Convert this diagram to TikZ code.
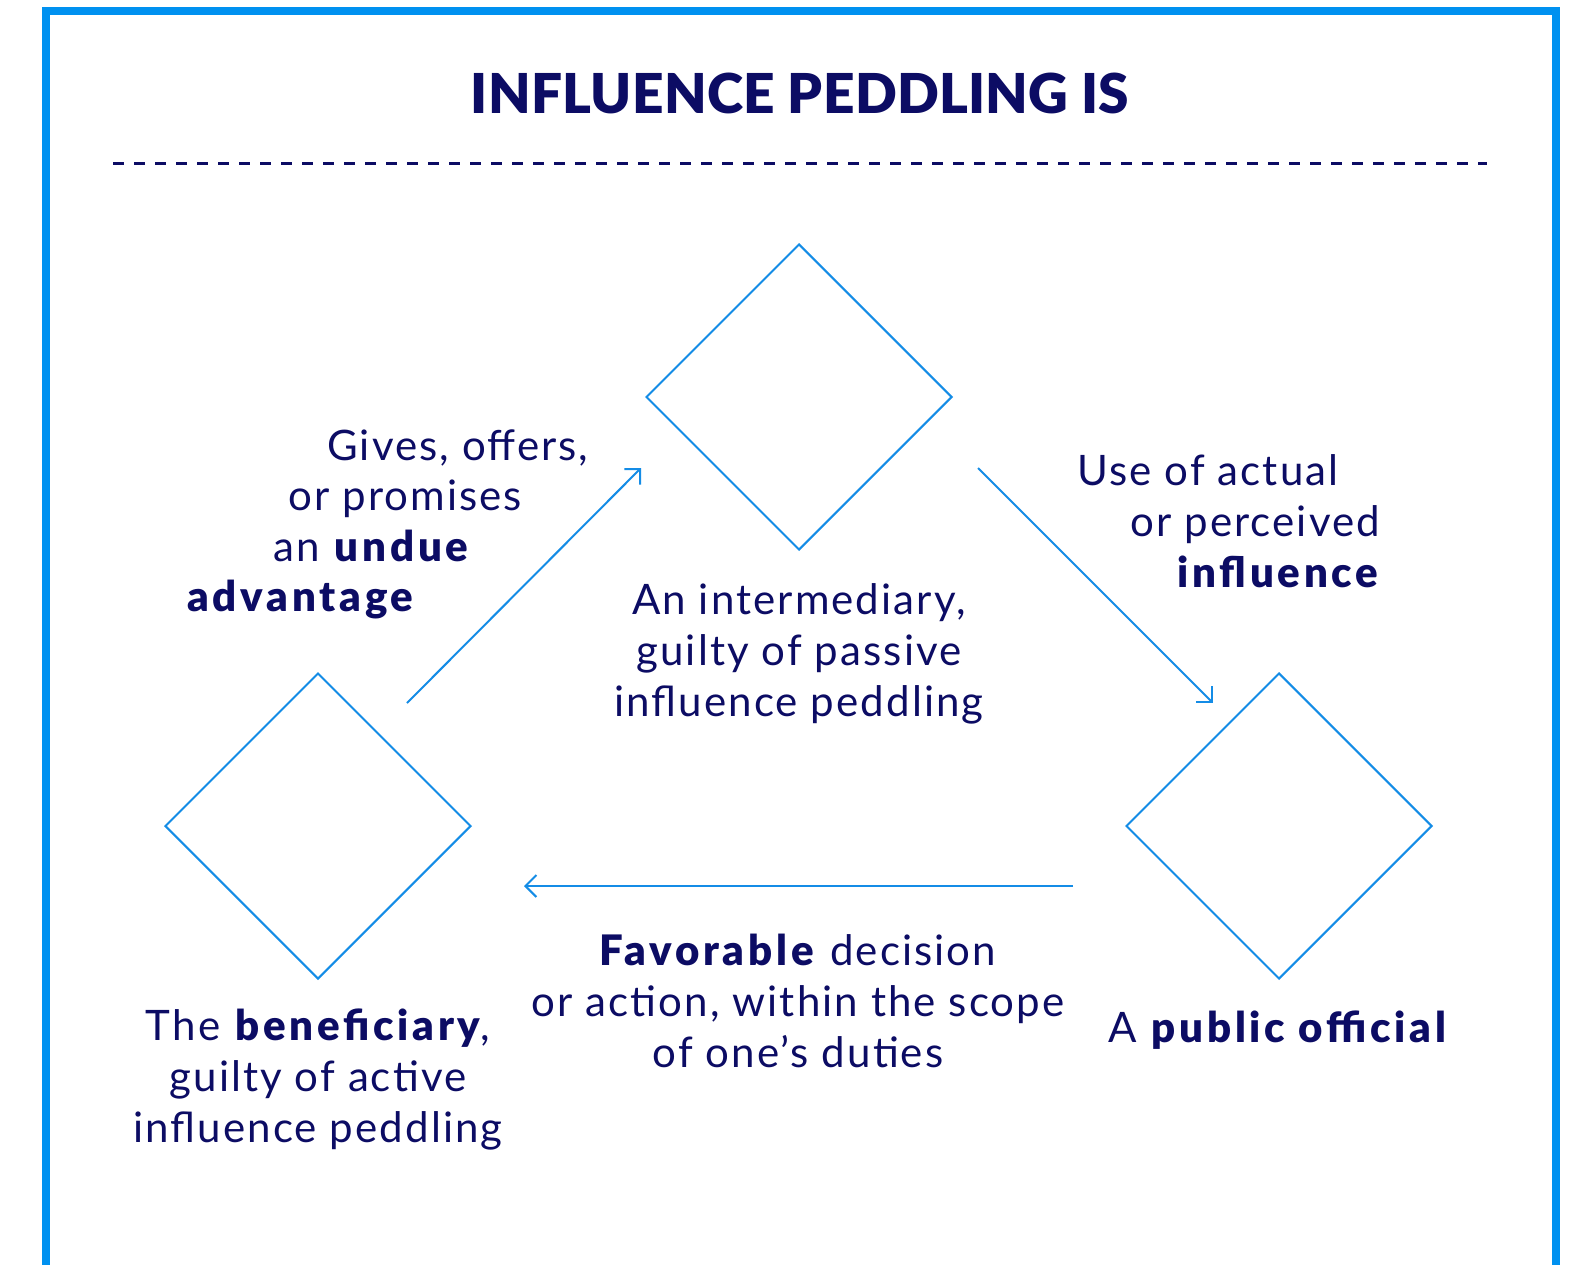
\documentclass[tikz,border=0pt]{standalone}
\usepackage{fontspec}
\setmainfont{Lato}[LetterSpace=5, BoldFont={Lato Black}, BoldFeatures={LetterSpace=9}]
\newfontfamily\titlefont{Lato}[LetterSpace=0.5, BoldFont={Lato Black}]
\usetikzlibrary{shapes.geometric,arrows.meta}
\definecolor{navy}{RGB}{12,12,100}
\definecolor{frameblue}{RGB}{0,145,240}
\definecolor{lineblue}{RGB}{20,140,230}
\begin{document}
\begin{tikzpicture}[x=0.5pt,y=-0.5pt,
  dia/.style={diamond, draw=lineblue, line width=1pt, inner sep=0pt,
    minimum width=153pt, minimum height=153pt},
  arr/.style={draw=lineblue, line width=1pt, -{Straight Barb[length=5.5pt,width=11pt,line width=1pt]}},
  txt/.style={text=navy, font=\fontsize{21pt}{25.5pt}\selectfont, inner sep=0pt},
  ctxt/.style={txt, align=center, anchor=base},
  ltxt/.style={txt, anchor=base west},
  ttl/.style={text=navy, font=\fontsize{27.5pt}{30pt}\titlefont\bfseries, inner sep=0pt, anchor=base}]
\useasboundingbox (0,0) rectangle (1572,1264);
\fill[white] (0,0) rectangle (1572,1264);
\begin{scope}
\clip (0,0) rectangle (1572,1264);
\draw[frameblue, line width=4pt, line join=miter] (46,1290) -- (46,11) -- (1556,11) -- (1556,1290);
\end{scope}
% title
\node[ttl] (title) at (800,113) {INFLUENCE PEDDLING IS};
\coordinate (dl) at (113,163);
\coordinate (dr) at (1487,163);
\draw[navy, line width=1.5pt, dash pattern=on 5.5pt off 5pt] (dl) -- (dr);
% diamonds
\node[dia] (mid) at (799,397) {};
\node[dia] (left) at (318,826) {};
\node[dia] (right) at (1279,826) {};
% arrows
\coordinate (a1s) at (407,703); \coordinate (a1e) at (641,468);
\coordinate (a2s) at (978,468); \coordinate (a2e) at (1213,703);
\coordinate (a3s) at (1073,886); \coordinate (a3e) at (524,886);
\draw[arr] (a1s) -- (a1e);
\draw[arr] (a2s) -- (a2e);
\draw[arr] (a3s) -- (a3e);
% left label
\node[ltxt] (g1) at (327,460) {Gives, offers,};
\node[ltxt] (g2) at (288,510) {or promises};
\node[ltxt] (g3) at (273,561) {an \textbf{undue}};
\node[ltxt] (g4) at (187,611) {\textbf{advantage}};
% right label
\node[ltxt] (u1) at (1077,485) {Use of actual};
\node[ltxt] (u2) at (1130,536) {or perceived};
\node[ltxt] (u3) at (1177,587) {\textbf{influence}};
% node texts (anchor = baseline of last line)
\node[ctxt] (tmid) at (799,716) {An intermediary,\\guilty of passive\\influence peddling};
\node[ctxt] (tleft) at (318,1142) {The \textbf{beneficiary},\\guilty of active\\influence peddling};
\node[ctxt] (tright) at (1279,1042) {A \textbf{public official}};
\node[ctxt] (tbot) at (798,1067) {\textbf{Favorable} decision\\or action, within the scope\\of one’s duties};
\end{tikzpicture}
\end{document}
